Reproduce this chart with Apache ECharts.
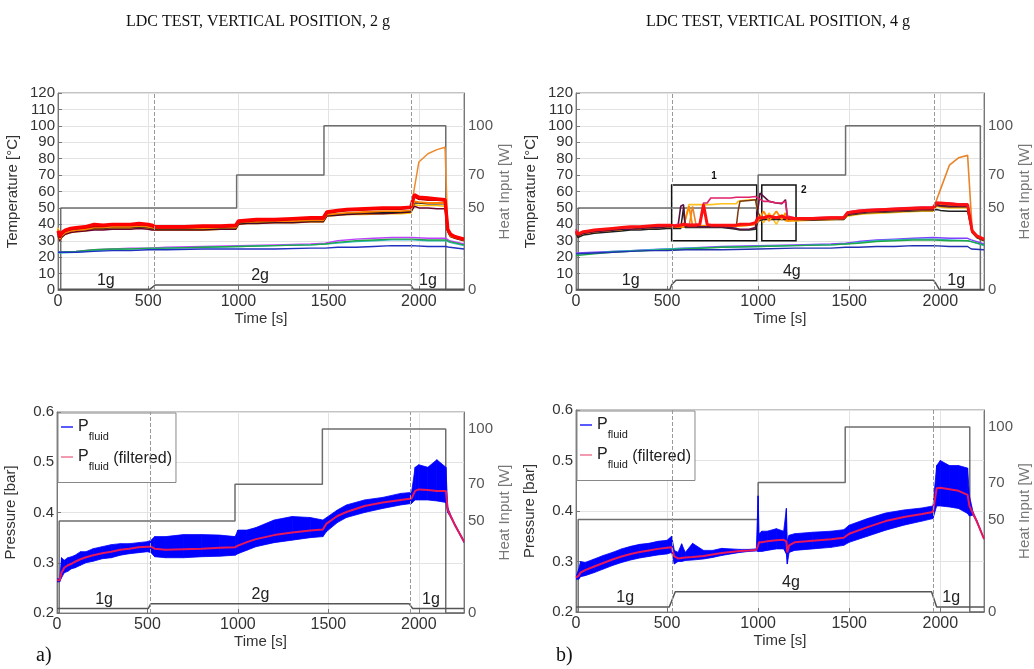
<!DOCTYPE html>
<html><head><meta charset="utf-8">
<script src="https://cdn.jsdelivr.net/npm/echarts@6/dist/echarts.min.js"></script>
<style>html,body{margin:0;padding:0;background:#fff}#c{width:1034px;height:669px}</style>
</head><body><div id="c"></div>
<script>
// ================= DATA =================
// ---- Panel a) top: temperatures, 2 g ----
const TL_T = [0,10,20,40,70, 100,150,200,250,300, 350,400,450,500,520, 540,600,700,800,900, 985,1000,1050,1100,1200, 1300,1400,1470,1490,1550, 1600,1700,1800,1900,1955, 1975,2000,2050,2100,2145, 2160,2175,2200,2250];
const TL_RED    = [36,33,35,36.5,37.5, 38,38.5,40,39.5,40, 40,40,40.5,40,39.5, 38.5,38.5,38.5,39,39, 39.5,42,42.5,43,43, 43.5,44,44,47.5,48.5, 49,49.5,50,50,50.5, 58,56.5,56,55.5,55, 37,34,32.5,31];
const TL_DRED   = [35,32,34,36,37, 37.5,38,39,39,39.5, 39.5,39.5,40,39.5,39, 38,38,38,38.5,38.5, 39,41.5,42,42.5,42.5, 43,43.5,43.5,47,48, 48.5,49,49.5,49.5,50, 57,55.5,55,55,54.5, 36.5,34,32.5,31];
const TL_ORANGE = [37,31,33,35,36, 36.5,37,38,38,38.5, 38.5,38.5,39,38.5,38, 37.5,37.5,37.5,37.5,38, 38,41,41.5,41.5,42, 42,42.5,42.5,46,46.5, 47,47.5,48,48,48.5, 54,53.5,53,53,53, 36,33,32,30.5];
const TL_YELLOW = [38,30,32,34,35, 35.5,36,37,37,37.5, 37.5,37.5,38,37.5,37, 36.5,36.5,36.5,36.5,37, 37,40,40.5,40.5,41, 41,41.5,41.5,45,45.5, 46,46,46.5,46.5,47, 52,51.5,51.5,51.5,51, 35.5,32.5,31.5,30];
const TL_BLACK  = [34,31,33,35,36, 36.5,37,37.5,37.5,38, 38,38,38.5,38,37.5, 37,37,37,37,37.5, 37.5,40.5,41,41,41.5, 41.5,42,42,45.5,46, 46.5,47,47,47.5,48, 53,53,52.5,52.5,52.5, 36,33,32,30.5];
const TL_MAROON = [33,30,32,34,35, 35.5,36,36.5,36.5,37, 37,37,37.5,37,36.5, 36.5,36.5,36.5,36.5,37, 37,40,40.5,40.5,41, 41,41.5,41.5,45,45.5, 46,46.5,46.5,47,47.5, 51,50,50,49.5,49.5, 35.5,32.5,31.5,30];
const TL_HIGH   = [36,30,32,34,35, 36,36.5,37,37,37.5, 37.5,37.5,38,37.5,37, 37,37,37,37,37.5, 37.5,40.5,41,41,41.5, 41.5,42,42,45.5,46, 46.5,47,47,47.5,48, 62,78,83,85.5,87, 37,34,32.5,31];
const TLC_T = [0,100,200,300,400,500,600,800,1000,1200,1400,1480,1550,1650,1750,1850,1960,2050,2150,2170,2250];
const TL_PURPLE = [23,23.5,24.5,25,25.5,25.5,26,26.5,27,27.5,28,28.5,30,31,31.5,32,32,31.5,31.5,30,28];
const TL_GREEN  = [23,23.5,24.5,25,25,25.5,25.5,26,26.5,27,27.5,28,29,30,30.5,31,31,30.5,30.5,29.5,27.5];
const TL_CYAN   = [22.5,23,24,24.5,25,25,25.5,26,26.5,27,27.5,28,28.5,29.5,30,30.5,30.5,30,30,29,27];
const TL_BLUE   = [23,23,23.5,24,24,24.5,24.5,25,25,25,25.5,25.5,26,26,26.5,27,27,26.5,26.5,26,25];
const TL_HEAT_T = [0,15,990,1474,2149,2250];
const TL_HEAT   = [0,50,70,100,0,0];
const TL_G_T = [0,510,538,1955,1970,2250];
const TL_G   = [1,1,2,2,1,1];
const TL_DASH = [532,1960];
const TL_GLAB_T = [265,1120,2050];
const TL_GLAB_G = [1,2,1];
const TL_GLAB = ['1g','2g','1g'];

// ---- Panel b) top: temperatures, 4 g ----
const TR_T = [0,10,20,40,70, 100,150,200,250,300, 350,400,450,500,520, 540,560,575,590,600, 620,640,660,680,700, 720,740,800,850,880, 890,900,950,985,1000, 1010,1030,1060,1100,1130, 1150,1160,1200,1300,1400, 1470,1490,1550,1600,1700, 1800,1900,1960,1980,2000, 2050,2100,2150,2160,2175, 2200,2240];
const TR_RED    = [36,34,34.5,35.5,36, 36.5,37,37.5,38,38.5, 38.5,39,39.5,39.5,39.5, 39,39,39.5,40,40, 39.5,39.5,39.5,40,52, 40,39.5,39.5,39.5,39.5, 40,40,40,41,44, 45,44,45,44,45, 44,43.5,43.5,43.5,44, 44,47,48,48.5,49, 49.5,50,50,53,53, 52.5,52,52,52,36, 33,31];
const TR_MAROON = [35,33,33.5,34.5,35, 35.5,36,36.5,37,37, 37.5,38,38,38.5,38.5, 38.5,39,51,52,39, 38.5,38.5,38.5,38.5,38.5, 38.5,38.5,38.5,38,37.5, 37.5,37,37,38,50, 59,57,54,53,52.5, 55,45,43,43,43.5, 43.5,46,47,47.5,48, 48.5,49,49,52,51.5, 51,51,51,51,35.5, 32.5,30.5];
const TR_PINK   = [37,34,34.5,35.5,36, 36.5,37,37.5,38,38, 38.5,39,39,39.5,39.5, 39.5,40,40,40,40, 40,40,40,40,53, 53,56,56,56,56.5, 56.5,56.5,56.5,57,56, 55,54,54,53,53, 54,45,44,44,44.5, 44.5,47.5,48.5,49,49.5, 50,50.5,50.5,53.5,53, 53,52.5,52.5,52.5,36, 33,31];
const TR_YELLOW = [33,32,33,34,34.5, 35,35.5,36,36.5,37, 37,37.5,38,38,38, 38,38,38,38.5,38.5, 52,52,52,52,52, 52,52,52.5,52.5,52.5, 54,55,55,55,46, 44,41,47,40,46, 42,41,42,42.5,43, 43,45,46,46.5,47, 47.5,48,48,51,50.5, 50,50,50,50,35, 32,30];
const TR_ORANGE = [34,33,33.5,34.5,35, 35.5,36,36.5,37,37.5, 37.5,38,38.5,38.5,38.5, 38.5,38.5,38.5,38.5,38.5, 51,39,39,39,39, 39,39,39,39,39, 39,39,39.5,40,42, 43,48,42,48,43, 47,42,42.5,43,43, 43.5,46,47,47.5,48, 48.5,49,49,52,52, 51.5,51.5,51,51,35.5, 32.5,30.5];
const TR_BLACK  = [34,32,32.5,33.5,34, 34.5,35,35.5,36,36.5, 36.5,37,37,37.5,37.5, 37.5,37.5,37.5,50,38, 38,38,38,38,38, 38,38,38,37.5,37, 37,36.5,36.5,37,42, 43,43,43,43,43, 43,42.5,42.5,42.5,43, 43,45.5,46.5,47,47.5, 48,48.5,48.5,49,48.5, 48,48,48,48,35, 32,30];
const TR_BROWN  = [35,33,33.5,34.5,35, 35.5,36,36.5,37,37.5, 37.5,38,38,38.5,38.5, 38.5,38.5,38.5,38.5,38.5, 38.5,38.5,38.5,38.5,38.5, 38.5,38.5,38.5,38.5,38.5, 48,54,54.5,55,47, 45,44,43.5,44,43.5, 44,43,43,43,43.5, 43.5,46,47,47.5,48, 48.5,49,49,51.5,51, 50.5,50.5,50.5,50.5,35.5, 32.5,30.5];
const TR_HIGH   = [34,33,33.5,34.5,35, 35.5,36,36.5,37,37.5, 37.5,38,38.5,38.5,38.5, 38.5,38.5,38.5,38.5,38.5, 38.5,51,39,39,39, 39,39,39,39,39, 39,39,39.5,40,42, 43,44,43,44,43, 44,43,42.5,43,43, 43.5,46,47,47.5,48, 48.5,49,49.5,55,61, 76,80.5,82,82,37, 33,31];
const TRC_T = [0,100,200,300,400,500,600,800,1000,1200,1400,1480,1550,1650,1750,1850,1960,2050,2150,2170,2240];
const TR_PURPLE = [22.5,23,23.5,24,24.5,25,25.5,26.5,27,27.5,28,28.5,29.5,30.5,31,31.5,32,31.5,31.5,30.5,28];
const TR_GREEN  = [21,22,23,23.5,24,24.5,25,26,26.5,27,27.5,28,28.5,29.5,30,30.5,30.5,30,30,29.5,27.5];
const TR_CYAN   = [22,22.5,23.5,24,24.5,25,25.5,26,26.5,27,27.5,28,29,30,30.5,31,31,30.5,30,29.5,27];
const TR_BLUE   = [22,22.5,23,23.5,24,24,24.5,24.5,25,25.5,25.5,26,26,26.5,26.5,27,27,26.5,26.5,25,24.5];
const TR_HEAT_T = [0,12,1000,1480,2220,2240];
const TR_HEAT   = [0,50,70,100,0,0];
const TR_G_T = [0,516,525,549,1962,1975,1995,2240];
const TR_G   = [1,1,2.5,4,4,3,1,1];
const TR_DASH = [531,1968];
const TR_GLAB_T = [300,1185,2087];
const TR_GLAB_G = [1,4,1];
const TR_GLAB = ['1g','4g','1g'];
const TR_BOX_T0 = [525,1020];
const TR_BOX_T1 = [992,1208];
const TR_BOX_LO = [30,30];
const TR_BOX_HI = [64,64];
const TR_BOX_LAB = ['1','2'];

// ---- Panel a) bottom: pressure, 2 g ----
const BL_T = [0,15,25,40,60, 80,100,130,160,200, 250,300,350,400,450, 500,520,540,600,700, 800,900,985,1000,1050, 1100,1200,1300,1400,1470, 1490,1550,1600,1700,1800, 1900,1960,1980,2000,2050, 2100,2150,2160,2180,2200, 2250];
const BL_FILT = [0.265,0.265,0.28,0.29,0.295, 0.298,0.302,0.307,0.311,0.315, 0.319,0.322,0.326,0.328,0.331, 0.332,0.332,0.328,0.326,0.327, 0.328,0.33,0.331,0.334,0.341, 0.347,0.355,0.36,0.364,0.366, 0.378,0.393,0.401,0.413,0.42, 0.425,0.428,0.443,0.446,0.445, 0.443,0.443,0.405,0.39,0.375, 0.342];
const BL_UP   = [0.268,0.268,0.31,0.305,0.31, 0.312,0.315,0.322,0.322,0.328, 0.332,0.336,0.338,0.338,0.34, 0.342,0.345,0.352,0.352,0.356, 0.356,0.355,0.352,0.365,0.365, 0.37,0.385,0.392,0.39,0.385, 0.39,0.405,0.415,0.425,0.43, 0.438,0.44,0.49,0.495,0.49, 0.505,0.49,0.41,0.392,0.377, 0.344];
const BL_LO   = [0.262,0.262,0.27,0.28,0.283, 0.288,0.29,0.295,0.3,0.303, 0.308,0.31,0.315,0.318,0.32, 0.322,0.32,0.312,0.31,0.31, 0.312,0.313,0.315,0.318,0.325, 0.332,0.34,0.345,0.35,0.352, 0.362,0.38,0.39,0.4,0.408, 0.415,0.418,0.425,0.425,0.425, 0.423,0.42,0.4,0.388,0.373, 0.34];
const BL_HEAT_T = [0,12,984,1467,2149,2250];
const BL_HEAT   = [0,50,70,100,0,0];
const BL_G_T = [0,505,518,1947,1966,2250];
const BL_G   = [1,1,2,2,1,1];
const BL_DASH = [514,1955];
const BL_GLAB_T = [260,1125,2067];
const BL_GLAB_G = [1,2,1];
const BL_GLAB = ['1g','2g','1g'];

// ---- Panel b) bottom: pressure, 4 g ----
const BR_T = [0,15,25,50,100, 150,200,250,300,350, 400,450,500,525,540, 560,580,600,640,700, 750,800,850,900,950, 990,1000,1005,1020,1050, 1100,1140,1155,1160,1170, 1200,1300,1400,1470,1500, 1600,1700,1800,1900,1960, 1980,2000,2050,2100,2150, 2160,2180,2200,2240];
const BR_FILT = [0.268,0.272,0.278,0.283,0.29, 0.297,0.304,0.31,0.315,0.319, 0.322,0.325,0.327,0.328,0.31, 0.306,0.307,0.308,0.309,0.311, 0.314,0.317,0.319,0.321,0.322, 0.323,0.332,0.338,0.338,0.34, 0.342,0.343,0.34,0.318,0.332, 0.338,0.341,0.344,0.347,0.355, 0.368,0.38,0.388,0.394,0.398, 0.445,0.446,0.443,0.44,0.432, 0.41,0.395,0.38,0.345];
const BR_UP   = [0.27,0.285,0.3,0.298,0.305, 0.312,0.318,0.325,0.33,0.334, 0.336,0.34,0.342,0.35,0.322, 0.318,0.335,0.318,0.336,0.322, 0.322,0.326,0.325,0.324,0.324, 0.325,0.43,0.355,0.36,0.36, 0.365,0.36,0.405,0.34,0.352, 0.355,0.358,0.36,0.363,0.372, 0.385,0.396,0.402,0.406,0.41, 0.49,0.5,0.49,0.49,0.485, 0.43,0.398,0.382,0.346];
const BR_LO   = [0.265,0.265,0.27,0.272,0.278, 0.285,0.292,0.298,0.303,0.307, 0.31,0.313,0.315,0.318,0.295, 0.3,0.3,0.302,0.303,0.305, 0.308,0.312,0.315,0.318,0.32, 0.321,0.32,0.32,0.32,0.322, 0.325,0.325,0.315,0.295,0.318, 0.322,0.325,0.328,0.332,0.338, 0.35,0.362,0.372,0.38,0.385, 0.41,0.41,0.408,0.405,0.395, 0.39,0.392,0.378,0.344];
const BR_HEAT_T = [0,12,1000,1478,2162,2240];
const BR_HEAT   = [0,50,70,100,0,0];
const BR_G_T = [0,512,545,1952,1980,2240];
const BR_G   = [1,1,4,4,1,1];
const BR_DASH = [527,1962];
const BR_GLAB_T = [270,1180,2060];
const BR_GLAB_G = [1,4,1];
const BR_GLAB = ['1g','4g','1g'];

const HEAT_TICKS = [0,50,70,100];

// ================= CHART =================
const FONT = '"Liberation Sans", Arial, sans-serif';
const SERIF = '"Liberation Serif", "Times New Roman", serif';
function pts(T, V) { return T.map((t, i) => [t, V[i]]); }

const GRIDS = [
  {left:58, top:93, width:406, height:197, show:true, borderColor:'#888', borderWidth:1},
  {left:576, top:93, width:408, height:197, show:true, borderColor:'#888', borderWidth:1},
  {left:57, top:412, width:407, height:201, show:true, borderColor:'#888', borderWidth:1},
  {left:576, top:410, width:408, height:202, show:true, borderColor:'#888', borderWidth:1}
];
const XMAX = [2250, 2240, 2250, 2240];

const xAxes = GRIDS.map((g, i) => ({
  gridIndex:i, type:'value', min:0, max:XMAX[i], interval:500,
  axisLine:{show:true, onZero:false, lineStyle:{color:'#777'}},
  axisTick:{show:true, inside:true, length:4, lineStyle:{color:'#777'}},
  axisLabel:{fontFamily:FONT, fontSize:16, color:'#333', margin:4, showMaxLabel:false, formatter: v => String(v)},
  splitLine:{show:true, lineStyle:{color:'#e3e3e3', width:1}},
  name:'Time [s]', nameLocation:'middle', nameGap: i < 2 ? 18 : 17,
  nameTextStyle:{fontFamily:FONT, fontSize:15, color:'#333'}
}));

const G_RANGE = [[0.8, 48.8], [0.842, 64], [0, 44], [0, 40]];
const yAxes = [];
GRIDS.forEach((g, i) => {
  const top = i < 2;
  yAxes.push({
    gridIndex:i, type:'value', position:'left',
    min: top ? 0 : 0.2, max: top ? 120 : 0.6, interval: top ? 10 : 0.1,
    axisLine:{show:true, onZero:false, lineStyle:{color:'#777'}},
    axisTick:{show:true, inside:true, length:4, lineStyle:{color:'#777'}},
    axisLabel:{fontFamily:FONT, fontSize:15, color:'#333', margin:3,
      formatter: v => top ? String(v) : v.toFixed(1)},
    splitLine:{show:true, lineStyle:{color:'#e3e3e3', width:1}},
    name: top ? 'Temperature [°C]' : 'Pressure [bar]', nameLocation:'middle', nameGap: top ? 38 : 39,
    nameTextStyle:{fontFamily:FONT, fontSize:15, color:'#333'}
  });
  yAxes.push({
    gridIndex:i, type:'value', position:'right',
    min:0, max: top ? 120 : 109.2, interval:10,
    axisLine:{show:true, onZero:false, lineStyle:{color:'#777'}},
    axisTick:{show:false},
    axisLabel:{fontFamily:FONT, fontSize:15, color:'#555', margin:4, showMaxLabel:false,
      formatter: v => HEAT_TICKS.includes(v) ? String(v) : ''},
    splitLine:{show:false},
    name:'Heat Input [W]', nameLocation:'middle', nameGap:31, nameRotate:90,
    nameTextStyle:{fontFamily:FONT, fontSize:15, color:'#777'}
  });
  yAxes.push({gridIndex:i, type:'value', show:false, min:G_RANGE[i][0], max:G_RANGE[i][1]});
});

function line(i, name, T, V, color, w, z) {
  return {type:'line', name, xAxisIndex:i, yAxisIndex:3*i, data:pts(T, V), symbol:'none',
    color, lineStyle:{color, width:w}, z: z || 3, silent:true, animation:false};
}
function heat(i, T, V) {
  return {type:'line', name:'heat'+i, xAxisIndex:i, yAxisIndex:3*i+1, data:pts(T, V), step:'end',
    symbol:'none', lineStyle:{color:'#6e6e6e', width:1.5}, z:1, silent:true, animation:false};
}
function glevel(i, T, V, dash, labT, labG, lab) {
  return {type:'line', name:'g'+i, xAxisIndex:i, yAxisIndex:3*i+2, data:pts(T, V),
    symbol:'none', lineStyle:{color:'#555', width:1.5}, z:1, silent:true, animation:false,
    markLine:{silent:true, symbol:['none','none'], label:{show:false},
      lineStyle:{type:'dashed', color:'#999', width:1}, animation:false,
      data: dash.map(t => ({xAxis:t}))},
    markPoint:{symbol:'circle', symbolSize:1, itemStyle:{color:'rgba(0,0,0,0)'}, animation:false,
      label:{show:true, position:'inside', offset:[0,-9], formatter:'{b}', fontFamily:FONT, fontSize:16, color:'#222'},
      data: lab.map((s, k) => ({name:s, coord:[labT[k], labG[k]]}))}
  };
}
// raw pressure drawn as a filled band between its lower and upper envelopes
function band(i, T, LO, UP, FI) {
  const segs = T.slice(0, -1).map((t, k) => [t, LO[k], UP[k], T[k+1], LO[k+1], UP[k+1]]);
  return [
    {type:'custom', name:'Pfluid', xAxisIndex:i, yAxisIndex:3*i, data:segs, clip:true,
      color:'#0000ff', z:2, silent:true, animation:false,
      encode:{x:[0,3], y:[1,2,4,5]},
      renderItem: (params, api) => {
        const p0u = api.coord([api.value(0), api.value(2)]);
        const p1u = api.coord([api.value(3), api.value(5)]);
        const p1l = api.coord([api.value(3), api.value(4)]);
        const p0l = api.coord([api.value(0), api.value(1)]);
        return {type:'polygon', shape:{points:[p0u, p1u, p1l, p0l]},
          style:{fill:'#0000ff', stroke:'#0000ff', lineWidth:0.8}};
      }},
    {type:'line', name:'Pfluid (filtered)', xAxisIndex:i, yAxisIndex:3*i, data:pts(T, FI),
      symbol:'none', color:'#e8185a', lineStyle:{color:'#e8185a', width:2}, z:3, silent:true, animation:false}
  ];
}

const series = [
  // panel 0
  heat(0, TL_HEAT_T, TL_HEAT),
  glevel(0, TL_G_T, TL_G, TL_DASH, TL_GLAB_T, TL_GLAB_G, TL_GLAB),
  line(0, 'purple', TLC_T, TL_PURPLE, '#c040ff', 1.4, 2),
  line(0, 'cyan', TLC_T, TL_CYAN, '#30b8c8', 1.3, 2),
  line(0, 'green', TLC_T, TL_GREEN, '#20a848', 1.4, 2),
  line(0, 'blue', TLC_T, TL_BLUE, '#2030c0', 1.4, 2),
  line(0, 'high', TL_T, TL_HIGH, '#ee8a2a', 1.5),
  line(0, 'yellow', TL_T, TL_YELLOW, '#ffc000', 1.6),
  line(0, 'maroon', TL_T, TL_MAROON, '#6a0030', 1.5),
  line(0, 'black', TL_T, TL_BLACK, '#1a1a1a', 1.5),
  line(0, 'orange', TL_T, TL_ORANGE, '#ff7f00', 1.8),
  line(0, 'dred', TL_T, TL_DRED, '#c00000', 2.4),
  line(0, 'red', TL_T, TL_RED, '#ff0000', 3.4),
  // panel 1
  heat(1, TR_HEAT_T, TR_HEAT),
  glevel(1, TR_G_T, TR_G, TR_DASH, TR_GLAB_T, TR_GLAB_G, TR_GLAB),
  line(1, 'purple', TRC_T, TR_PURPLE, '#8040ff', 1.4, 2),
  line(1, 'cyan', TRC_T, TR_CYAN, '#30b8c8', 1.3, 2),
  line(1, 'green', TRC_T, TR_GREEN, '#20a848', 1.4, 2),
  line(1, 'blue', TRC_T, TR_BLUE, '#2030b0', 1.4, 2),
  line(1, 'high', TR_T, TR_HIGH, '#e8842a', 1.6),
  line(1, 'yellow', TR_T, TR_YELLOW, '#ffc020', 1.6),
  line(1, 'black', TR_T, TR_BLACK, '#202020', 1.5),
  line(1, 'brown', TR_T, TR_BROWN, '#7a3a10', 1.5),
  line(1, 'orange', TR_T, TR_ORANGE, '#ff8c00', 1.8),
  line(1, 'maroon', TR_T, TR_MAROON, '#5a1040', 1.6),
  line(1, 'pink', TR_T, TR_PINK, '#e0206a', 1.6),
  Object.assign(line(1, 'red', TR_T, TR_RED, '#ff1010', 3), {
    markArea:{silent:true, animation:false,
      itemStyle:{color:'rgba(0,0,0,0)', borderColor:'#111', borderWidth:1.5},
      label:{show:true, fontFamily:FONT, fontSize:10, fontWeight:'bold', color:'#111'},
      data: TR_BOX_LAB.map((s, k) => [
        {name:s, coord:[TR_BOX_T0[k], TR_BOX_LO[k]],
          label: k === 0 ? {position:'top', distance:3} : {position:['112%', 1]}},
        {coord:[TR_BOX_T1[k], TR_BOX_HI[k]]}
      ])}
  }),
  // panel 2
  heat(2, BL_HEAT_T, BL_HEAT),
  glevel(2, BL_G_T, BL_G, BL_DASH, BL_GLAB_T, BL_GLAB_G, BL_GLAB),
  ...band(2, BL_T, BL_LO, BL_UP, BL_FILT),
  // panel 3
  heat(3, BR_HEAT_T, BR_HEAT),
  glevel(3, BR_G_T, BR_G, BR_DASH, BR_GLAB_T, BR_GLAB_G, BR_GLAB),
  ...band(3, BR_T, BR_LO, BR_UP, BR_FILT)
];

const legendBase = k => ({
  data:[{name:'Pfluid', itemStyle:{color:'#5a5aff'}}, {name:'Pfluid (filtered)', itemStyle:{color:'#f29ab0'}}],
  orient:'vertical', left: k ? 577 : 58, top: k ? 411 : 413, selectedMode:false,
  icon:'rect', itemWidth:12, itemHeight:2, itemGap:6.5,
  padding:[6,4,10,3], backgroundColor:'#fff', borderColor:'#888', borderWidth:1, borderRadius:0,
  formatter: n => n === 'Pfluid' ? '{m|P}{s|fluid}' : '{m|P}{s|fluid}{t| (filtered)}',
  textStyle:{fontFamily:FONT, color:'#222', rich:{
    m:{fontFamily:FONT, fontSize:16, lineHeight:17, color:'#222'},
    s:{fontFamily:FONT, fontSize:11, lineHeight:12, color:'#222', padding:[10,0,-10,0]},
    t:{fontFamily:FONT, fontSize:16, lineHeight:17, color:'#222', padding:[2,0,-2,0]}
  }}
});

const option = {
  animation:false,
  backgroundColor:'#fff',
  title:[
    {text:'LDC TEST, VERTICAL POSITION, 2 g', left:253, top:9, textAlign:'center',
      textStyle:{fontFamily:SERIF, fontSize:16, fontWeight:'normal', color:'#111'}},
    {text:'LDC TEST, VERTICAL POSITION, 4 g', left:773, top:9, textAlign:'center',
      textStyle:{fontFamily:SERIF, fontSize:16, fontWeight:'normal', color:'#111'}},
    {text:'a)', left:31, top:641, textStyle:{fontFamily:SERIF, fontSize:20, fontWeight:'normal', color:'#111'}},
    {text:'b)', left:551, top:641, textStyle:{fontFamily:SERIF, fontSize:20, fontWeight:'normal', color:'#111'}}
  ],
  legend:[legendBase(0), legendBase(1)],
  grid:GRIDS,
  xAxis:xAxes,
  yAxis:yAxes,
  series
};

const chart = echarts.init(document.getElementById('c'), null, {renderer:'canvas'});
chart.setOption(option);
</script></body></html>
